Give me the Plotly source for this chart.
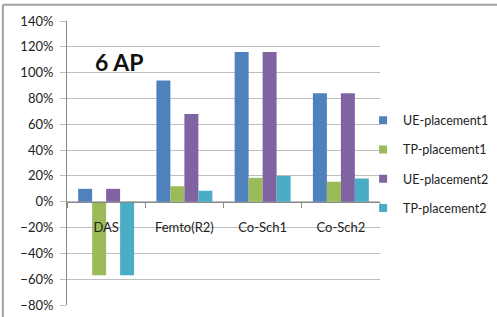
import plotly.graph_objects as go

categories = ["DAS", "Femto(R2)", "Co-Sch1", "Co-Sch2"]
series_names = ["UE-placement1", "TP-placement1", "UE-placement2", "TP-placement2"]
ue_placement1 = [0.10, 0.94, 1.16, 0.84]
tp_placement1 = [-0.57, 0.12, 0.185, 0.155]
ue_placement2 = [0.10, 0.68, 1.16, 0.84]
tp_placement2 = [-0.57, 0.085, 0.20, 0.18]
colors = ["#4F81BD", "#9BBB59", "#8064A2", "#4BACC6"]
y_ticks = [-0.8, -0.6, -0.4, -0.2, 0, 0.2, 0.4, 0.6, 0.8, 1.0, 1.2, 1.4]
title_text = "6 AP"

FONT = "Lato, 'Open Sans', sans-serif"
values = [ue_placement1, tp_placement1, ue_placement2, tp_placement2]

fig = go.Figure()
for name, vals, col in zip(series_names, values, colors):
    fig.add_trace(go.Bar(x=categories, y=vals, name=name, marker_color=col,
                         marker_line_width=0, showlegend=False))
for i, (name, col) in enumerate(zip(series_names, colors)):
    fig.add_trace(go.Scatter(x=[None], y=[None], mode="markers", name=name,
                             marker=dict(symbol="square", size=8, color=col),
                             legendgroup=f"g{i}", xaxis="x", yaxis="y"))

ymin, ymax = -0.8, 1.4
zero_pos = (0 - ymin) / (ymax - ymin)

fig.update_layout(
    width=497, height=317,
    margin=dict(l=67, r=117, t=21, b=12, autoexpand=False),
    paper_bgcolor="white", plot_bgcolor="white",
    barmode="group", bargap=0.285, bargroupgap=0,
    font=dict(family=FONT, size=13, color="#222"),
    xaxis=dict(showticklabels=False, showgrid=False, zeroline=False,
               showline=False, ticks=""),
    xaxis2=dict(overlaying="x", matches="x", anchor="free", position=zero_pos,
                side="bottom", showline=True, linecolor="#888", linewidth=1,
                ticks="outside", tickson="boundaries", ticklen=5, tickcolor="#888",
                showgrid=False, zeroline=False, ticklabelstandoff=14,
                tickfont=dict(size=13, color="#222")),
    yaxis=dict(range=[ymin, ymax], tickvals=y_ticks, tickformat=".0%",
               showgrid=True, gridcolor="#BFBFBF", gridwidth=1,
               zeroline=False, showline=True, linecolor="#888", linewidth=1,
               ticks="outside", ticklen=6, tickcolor="#BFBFBF",
               ticklabelstandoff=4,
               tickfont=dict(size=13, color="#222")),
    legend=dict(x=0.946, xanchor="left", y=0.702, yanchor="top",
                font=dict(size=12.5, color="#222"), tracegroupgap=10,
                itemwidth=30, bgcolor="rgba(0,0,0,0)"),
    showlegend=True,
)
# invisible trace to activate xaxis2 with categories
fig.add_trace(go.Bar(x=categories, y=[None]*len(categories), xaxis="x2",
                     showlegend=False, hoverinfo="skip"))

fig.add_annotation(text=f"<b>{title_text}</b>", xref="paper", yref="paper",
                   x=0.083, y=0.856, xanchor="left", yanchor="middle",
                   showarrow=False, font=dict(size=23, color="#111", family=FONT))

# chart frame (top and left edges)
fig.add_shape(type="line", xref="paper", yref="paper", x0=-0.205, x1=1.4,
              y0=1.057, y1=1.057, line=dict(color="#A0A0A0", width=2))
fig.add_shape(type="line", xref="paper", yref="paper", x0=-0.205, x1=-0.205,
              y0=1.057, y1=-0.1, line=dict(color="#A0A0A0", width=2))

fig.write_html("out.html", config={"displayModeBar": False},
               post_script="document.body.style.margin='0';document.body.style.overflow='hidden';")
